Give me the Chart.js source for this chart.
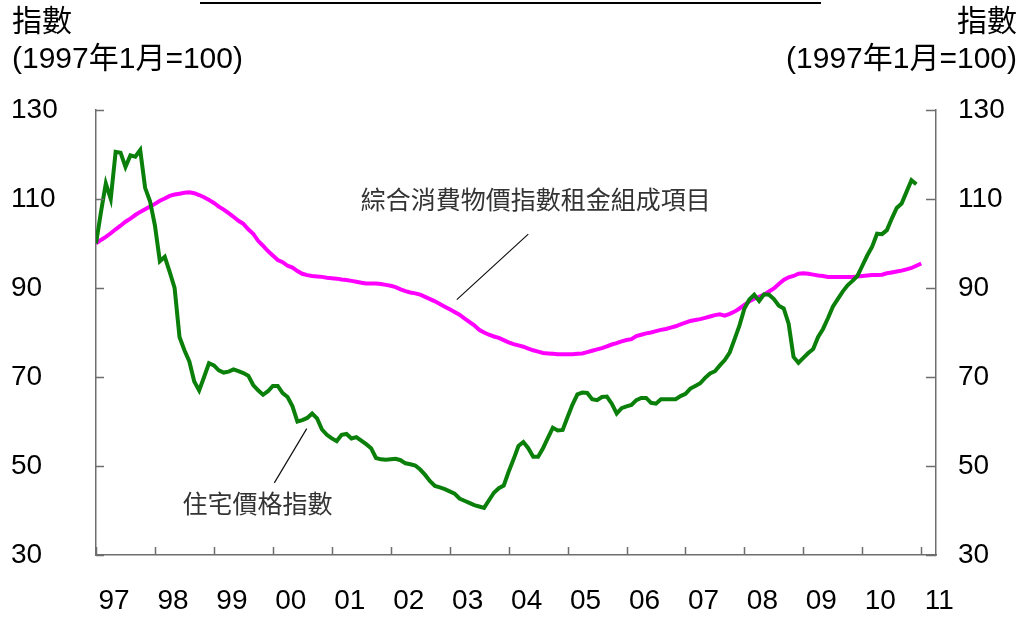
<!DOCTYPE html>
<html><head><meta charset="utf-8">
<script src="https://cdn.jsdelivr.net/npm/chart.js@4"></script>
<style>html,body{margin:0;padding:0;background:#fff;overflow:hidden}</style>
</head><body>
<canvas id="c" width="1025" height="619"></canvas>
<script>
const yearLabels = ['97','98','99','00','01','02','03','04','05','06','07','08','09','10','11'];
const yTicks = [30, 50, 70, 90, 110, 130];
const seriesNames = ['住宅價格指數', '綜合消費物價指數租金組成項目'];
const axisTitle = ['指數', '(1997年1月=100)'];

// monthly, Jan 1997 .. Dec 2010
const housePrice = [
  100,107,113.5,110,120.6,120.4,117.2,119.8,119.5,121,112.5,109.5,
  104,96,97,93.6,90,79,76,73.5,69,67,70,73.1,
  72.6,71.5,71,71.2,71.7,71.3,70.9,70.3,68.2,67,66,66.8,
  68,68,66.4,65.5,63.4,60,60.3,60.8,61.8,60.7,58.2,57,
  56.2,55.6,57,57.2,56.2,56.5,55.7,54.9,54,51.8,51.5,51.4,
  51.5,51.6,51.3,50.6,50.4,50.1,49.2,48,46.6,45.5,45.2,44.8,
  44.3,43.8,42.7,42.2,41.7,41.2,40.9,40.6,42.3,44,45,45.6,
  48.7,51.5,54.5,55.4,54,52.1,52.1,54,56.3,58.6,58,58.1,
  61,63.8,66.1,66.5,66.4,65,64.8,65.5,65.6,64,61.8,63,
  63.4,63.7,64.8,65.3,65.3,64.2,64,65,65,65,65,65.7,
  66.2,67.4,68,68.6,69.8,70.8,71.3,72.6,73.8,75.5,78.5,81.6,
  85.4,87.4,88.5,87.1,88.6,88.5,87.5,86,85.4,82,74.5,73.2,
  74.3,75.4,76.3,79,80.8,83.2,85.8,87.5,89.2,90.6,91.6,92.7,
  95,97.3,99.3,102.2,102.1,103,105.6,108,109,111.6,114.2,113.3
];
// monthly, Jan 1997 .. Jan 2011
const rentCPI = [
  100,100.8,101.5,102.3,103.2,104,104.9,105.6,106.4,107.1,107.7,108.3,
  108.9,109.6,110.1,110.7,111,111.2,111.4,111.5,111.3,110.9,110.4,109.8,
  109.1,108.3,107.6,106.8,106,105.1,104.4,103.2,102.2,100.6,99.5,98.3,
  97.3,96.3,95.8,95,94.6,93.8,93.2,92.9,92.7,92.6,92.5,92.3,
  92.2,92.1,91.9,91.8,91.6,91.4,91.2,91,91,91,90.9,90.7,
  90.5,90.2,89.7,89.3,89,88.8,88.5,88,87.5,87,86.4,85.8,
  85.2,84.6,84,83.2,82.4,81.6,80.6,80,79.5,79.1,78.8,78.3,
  77.8,77.4,77.1,76.8,76.4,76,75.7,75.4,75.3,75.2,75.1,75.1,
  75.1,75.1,75.2,75.3,75.6,75.9,76.2,76.5,76.9,77.3,77.6,78,
  78.3,78.5,79.2,79.5,79.8,80,80.3,80.6,80.8,81.1,81.4,81.8,
  82.2,82.6,82.8,83,83.3,83.6,83.9,84.1,83.8,84.2,84.7,85.4,
  86.2,87,87.6,88,88.5,89.2,89.9,90.9,91.8,92.4,92.7,93.2,
  93.3,93.2,93,92.8,92.7,92.5,92.5,92.5,92.5,92.5,92.5,92.6,
  92.7,92.8,92.9,92.9,93,93.3,93.5,93.7,93.9,94.2,94.5,95,
  95.5
];

// annotation anchors in data units [month index, index value]
const houseLabelAt = [32.9, 41.6];
const houseLeader = [[36.3, 46.2], [42.9, 58.4]];
const rentLabelAt = [89.5, 110];
const rentLeader = [[73.45, 87.4], [88.0, 102.1]];

const tickFont = {family: '"Liberation Sans", Arial, sans-serif', size: 28};
const axisColor = '#6e6e6e';

const annot = {
  id: 'annot',
  afterDraw(chart) {
    const {ctx, scales: {x, y, y2}} = chart;
    ctx.save();
    // inward tick marks
    ctx.strokeStyle = axisColor; ctx.lineWidth = 1.5;
    ctx.beginPath();
    x.ticks.forEach(t => { const px = Math.round(x.getPixelForValue(t.value)) + 0.5; ctx.moveTo(px, y.bottom); ctx.lineTo(px, y.bottom - 8); });
    y.ticks.forEach(t => { const py = Math.round(y.getPixelForValue(t.value)) + 0.5; ctx.moveTo(x.left, py); ctx.lineTo(x.left + 8, py); });
    y2.ticks.forEach(t => { const py = Math.round(y2.getPixelForValue(t.value)) + 0.5; ctx.moveTo(x.right, py); ctx.lineTo(x.right - 10, py); });
    ctx.stroke();
    // leader lines
    ctx.strokeStyle = '#111'; ctx.lineWidth = 1.2;
    ctx.beginPath();
    [houseLeader, rentLeader].forEach(l => {
      ctx.moveTo(x.getPixelForValue(l[0][0]), y.getPixelForValue(l[0][1]));
      ctx.lineTo(x.getPixelForValue(l[1][0]), y.getPixelForValue(l[1][1]));
    });
    ctx.stroke();
    // series labels
    ctx.fillStyle = '#333';
    ctx.font = '25px "Noto Sans CJK TC", sans-serif';
    ctx.textAlign = 'center'; ctx.textBaseline = 'middle';
    ctx.fillText(seriesNames[0], x.getPixelForValue(houseLabelAt[0]), y.getPixelForValue(houseLabelAt[1]));
    ctx.fillText(seriesNames[1], x.getPixelForValue(rentLabelAt[0]), y.getPixelForValue(rentLabelAt[1]));
    // axis titles
    ctx.fillStyle = '#000';
    ctx.font = '30px "Liberation Sans", "Noto Sans CJK TC", sans-serif';
    ctx.textAlign = 'left';
    ctx.fillText(axisTitle[0], 12, 23);
    ctx.fillText(axisTitle[1], 12, 60);
    ctx.textAlign = 'right';
    ctx.fillText(axisTitle[0], 1017, 23);
    ctx.fillText(axisTitle[1], 1017, 60);
    // clipped title underline
    ctx.strokeStyle = '#000'; ctx.lineWidth = 2;
    ctx.beginPath(); ctx.moveTo(200, 3); ctx.lineTo(821, 3); ctx.stroke();
    ctx.restore();
  }
};

const yScale = (pos, width, align, pad) => ({
  position: pos, min: 30, max: 130,
  afterBuildTicks: s => { s.ticks = yTicks.map(v => ({value: v})); },
  afterFit: s => { s.width = width; },
  grid: {display: false, drawTicks: false},
  border: {display: true, color: axisColor, width: 1.5},
  ticks: {crossAlign: align, padding: pad, font: tickFont, color: '#000'}
});

new Chart(document.getElementById('c'), {
  type: 'line',
  data: {
    datasets: [
      {label: seriesNames[0], data: housePrice.map((v, i) => ({x: i, y: v})), borderColor: '#0a7f0a', borderWidth: 4, pointRadius: 0, tension: 0, yAxisID: 'y'},
      {label: seriesNames[1], data: rentCPI.map((v, i) => ({x: i, y: v})), borderColor: '#ff00ff', borderWidth: 4, pointRadius: 0, tension: 0, yAxisID: 'y'}
    ]
  },
  options: {
    responsive: false, animation: false, devicePixelRatio: 1,
    layout: {padding: {left: 11, top: 110, right: 0, bottom: 0}},
    plugins: {legend: {display: false}, tooltip: {enabled: false}},
    scales: {
      x: {
        type: 'linear', min: 0, max: 171,
        afterBuildTicks: s => { s.ticks = yearLabels.map((_, i) => ({value: i * 12})); },
        afterFit: s => { s.height = 64; },
        grid: {display: false, drawTicks: false},
        border: {display: true, color: axisColor, width: 1.5},
        ticks: {autoSkip: false, maxRotation: 0, minRotation: 0, labelOffset: 18, padding: 29, font: tickFont, color: '#000',
          callback: v => yearLabels[Math.round(v / 12)]}
      },
      y: yScale('left', 85, 'far', 0),
      y2: yScale('right', 89, 'near', 22)
    }
  },
  plugins: [annot]
});
</script>
</body></html>
